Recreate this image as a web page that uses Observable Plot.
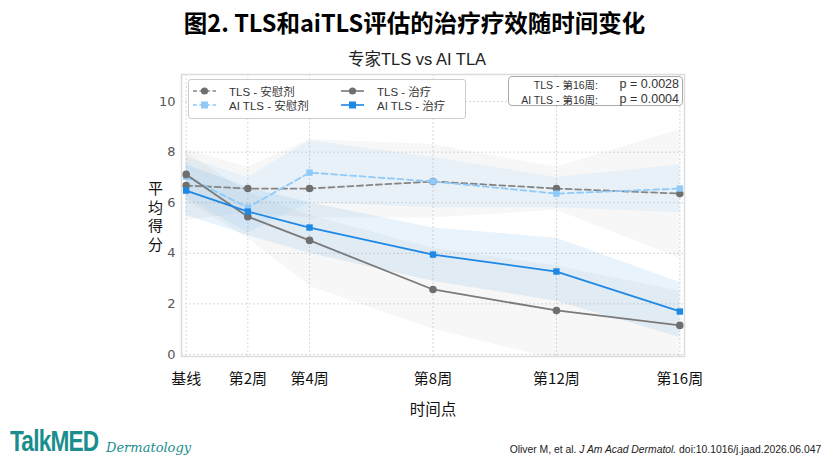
<!DOCTYPE html>
<html><head><meta charset="utf-8">
<script src="https://cdn.jsdelivr.net/npm/d3@7"></script>
<script src="https://cdn.jsdelivr.net/npm/@observablehq/plot@0.6"></script>
<style>
body{margin:0;background:#fff;font-family:"Noto Sans CJK SC","Noto Sans",sans-serif;}
#wrap{position:relative;width:829px;height:464px;overflow:hidden;}
.abs{position:absolute;white-space:nowrap;}
#title{left:0;width:829px;top:5px;text-align:center;font-size:23.5px;font-weight:bold;color:#000;}
#sub{left:0;width:834px;top:46px;text-align:center;font-size:16.5px;color:#222;font-family:"Liberation Sans","Noto Sans CJK SC",sans-serif;}
#ylab{left:145px;top:181px;font-size:15px;color:#111;writing-mode:vertical-rl;text-orientation:upright;letter-spacing:3.5px;}
#xlab{left:182px;width:502px;top:397px;text-align:center;font-size:15.5px;color:#111;}
#legend{left:188px;top:79px;width:276px;height:38px;border:1px solid #ccc;border-radius:3px;background:rgba(255,255,255,0.9);font-family:"Liberation Sans","Noto Sans CJK SC",sans-serif;font-size:11.5px;color:#333;}
#legend .it{position:absolute;display:flex;align-items:center;}
#pbox{left:508px;top:76px;width:173px;height:28px;border:1px solid #aaa;border-radius:4px;background:rgba(255,255,255,0.9);font-size:10.5px;color:#333;font-family:"Liberation Sans","Noto Sans CJK SC",sans-serif;}
#pbox .r{position:absolute;right:3px;}
#pbox .l{position:absolute;right:84px;}
#pbox .pv{font-family:"Liberation Sans",sans-serif;font-size:12.5px;}
#logo{left:10px;top:425px;font-family:"Liberation Sans",sans-serif;font-weight:bold;font-size:29px;color:#1a8d8d;letter-spacing:-1px;transform:scaleX(0.78);transform-origin:left top;}
#derm{left:106px;top:440px;font-family:"DejaVu Serif",serif;font-style:italic;font-size:13px;color:#1a8d8d;}
#cite{right:8px;top:443px;font-family:"Liberation Sans",sans-serif;font-size:11.5px;color:#222;transform:scaleX(0.9);transform-origin:right top;}
</style></head>
<body><div id="wrap"></div>
<script>
const weeks = [0, 2, 4, 8, 12, 16];
const weekLabels = ["基线", "第2周", "第4周", "第8周", "第12周", "第16周"];
const tlsPlacebo = [6.68, 6.56, 6.56, 6.84, 6.56, 6.36];
const aiPlacebo  = [7.03, 5.81, 7.19, 6.84, 6.36, 6.56];
const tlsTreat   = [7.12, 5.45, 4.51, 2.57, 1.74, 1.15];
const aiTreat    = [6.48, 5.65, 5.02, 3.95, 3.28, 1.70];
const tlsPlaceboLo = [5.3, 5.6, 5.4, 5.4, 5.7, 3.8];
const tlsPlaceboHi = [8.1, 7.4, 8.5, 8.3, 7.4, 8.9];
const aiPlaceboLo  = [6.2, 4.8, 6.0, 5.8, 5.8, 5.6];
const aiPlaceboHi  = [7.8, 7.0, 8.45, 7.8, 7.0, 7.5];
const tlsTreatLo = [6.1, 4.6, 2.7, 1.0, -0.2, -0.1];
const tlsTreatHi = [8.0, 6.4, 5.5, 4.2, 3.5, 2.5];
const aiTreatLo  = [5.5, 4.7, 4.0, 2.9, 2.1, 0.67];
const aiTreatHi  = [7.5, 6.6, 6.0, 5.0, 4.6, 2.85];
const yTicks = [0, 2, 4, 6, 8, 10];

const series = [
  {key:"TLS - 安慰剂", v:tlsPlacebo, lo:tlsPlaceboLo, hi:tlsPlaceboHi, color:"#858585", mark:"#6f6f6f", band:"#a8a8a8", bandOp:0.09, dash:"6,3.5", sym:"circle"},
  {key:"AI TLS - 安慰剂", v:aiPlacebo, lo:aiPlaceboLo, hi:aiPlaceboHi, color:"#90caf9", mark:"#90caf9", band:"#90caf9", bandOp:0.14, dash:"6,3.5", sym:"square"},
  {key:"TLS - 治疗", v:tlsTreat, lo:tlsTreatLo, hi:tlsTreatHi, color:"#7a7a7a", mark:"#6f6f6f", band:"#a8a8a8", bandOp:0.09, dash:null, sym:"circle"},
  {key:"AI TLS - 治疗", v:aiTreat, lo:aiTreatLo, hi:aiTreatHi, color:"#1e88e5", mark:"#1e88e5", band:"#1e88e5", bandOp:0.1, dash:null, sym:"square"}
];
const rows = s => weeks.map((w,i)=>({w, v:s.v[i], lo:s.lo[i], hi:s.hi[i]}));

const marks = [
  Plot.gridX({ticks:weeks, stroke:"#d8d8d8", strokeOpacity:1, strokeDasharray:"2,2"}),
  Plot.gridY({ticks:yTicks, stroke:"#d8d8d8", strokeOpacity:1, strokeDasharray:"2,2"}),
];
for (const s of series) marks.push(Plot.areaY(rows(s), {x:"w", y1:"lo", y2:"hi", fill:s.band, fillOpacity:s.bandOp, clip:true}));
for (const s of series) {
  marks.push(Plot.line(rows(s), {x:"w", y:"v", stroke:s.color, strokeWidth:1.8, strokeDasharray:s.dash}));
  marks.push(Plot.dot(rows(s), {x:"w", y:"v", fill:s.mark, symbol:s.sym, r: s.sym==="square"?3.6:3.8}));
}
marks.push(Plot.frame({stroke:"#dcdcdc", strokeWidth:1.5}));
marks.push(Plot.axisX({ticks:weeks, tickFormat:d=>weekLabels[weeks.indexOf(d)], tickSize:0, tickPadding:17, fontSize:15, fill:"#111", fontFamily:"Noto Sans CJK SC", label:null}));
marks.push(Plot.axisY({ticks:yTicks, tickSize:0, tickPadding:6, fontSize:13, fill:"#555", fontFamily:"DejaVu Sans", label:null}));

const chart = Plot.plot({
  width:829, height:464,
  marginTop:74, marginBottom:108, marginLeft:181, marginRight:145,
  x:{domain:[-0.15,16.15], label:null},
  y:{domain:[-0.08,11.07], label:null},
  marks
});
const wrap = document.getElementById("wrap");
wrap.appendChild(chart);

function sw(s){
  const dash = s.dash ? `stroke-dasharray="4,2.5"` : "";
  const m = s.sym==="square" ? `<rect x="8" y="3.5" width="7" height="7" fill="${s.mark}"/>` : `<circle cx="11.5" cy="7" r="3.6" fill="${s.mark}"/>`;
  return `<svg width="23" height="14" style="margin-right:13px"><line x1="0" x2="23" y1="7" y2="7" stroke="${s.color}" stroke-width="1.6" ${dash}/>${m}</svg>`;
}
const pos = [[4,4],[4,18],[152,4],[152,18]];
const items = series.map((s,i)=>`<div class="it" style="left:${pos[i][0]}px;top:${pos[i][1]-1}px">${sw(s)}<span>${s.key}</span></div>`).join("");

wrap.insertAdjacentHTML("beforeend", `
<div id="title" class="abs">图2. TLS和aiTLS评估的治疗疗效随时间变化</div>
<div id="sub" class="abs">专家TLS vs AI TLA</div>
<div id="ylab" class="abs">平均得分</div>
<div id="xlab" class="abs">时间点</div>
<div id="legend" class="abs">${items}</div>
<div id="pbox" class="abs">
  <span class="l" style="top:0px">TLS - 第16周:</span><span class="r pv" style="top:0px">p = 0.0028</span>
  <span class="l" style="top:14.5px">AI TLS - 第16周:</span><span class="r pv" style="top:14.5px">p = 0.0004</span>
</div>
<div id="logo" class="abs">TalkMED</div>
<div id="derm" class="abs">Dermatology</div>
<div id="cite" class="abs">Oliver M, et al. <i>J Am Acad Dermatol.</i> doi:10.1016/j.jaad.2026.06.047</div>
`);
</script></body></html>
